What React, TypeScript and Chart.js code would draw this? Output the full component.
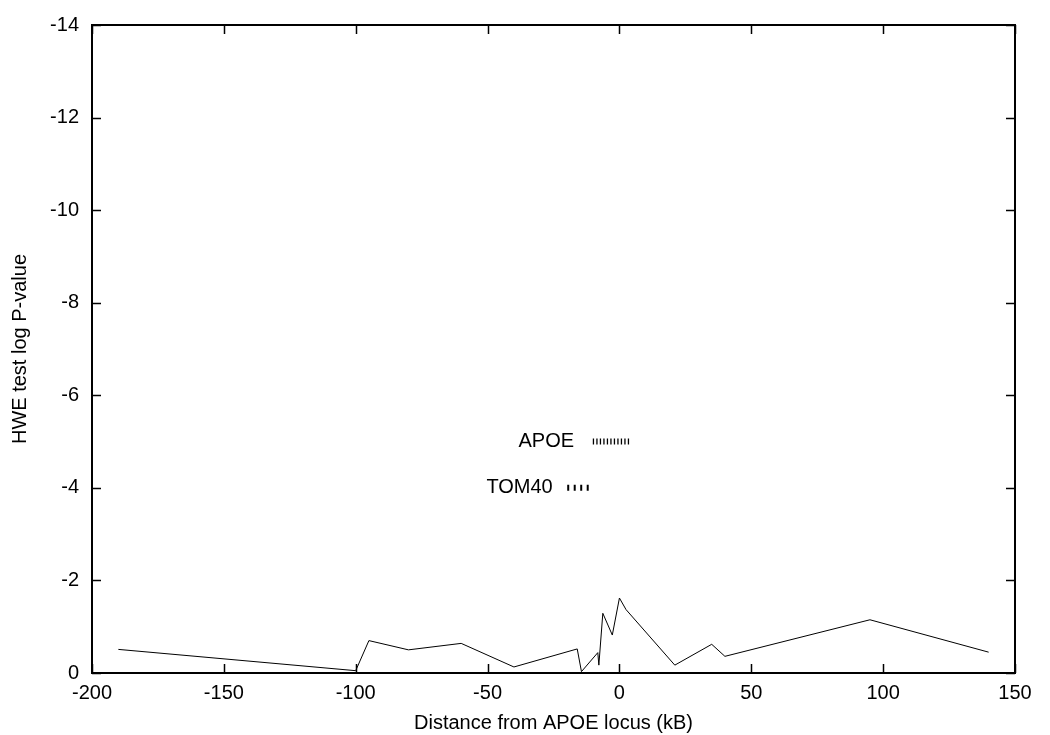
import { Chart, registerables } from "chart.js";
import React, { useEffect, useRef } from "react";

Chart.register(...registerables);

// HWE test -log P along the region (kB from APOE)
const distanceKb = [-190, -100, -95, -80, -60, -40, -16, -14.4, -8.2, -7.8, -6.3, -2.7, 0, 2.5, 21, 35, 40, 95, 140];
const hweLogP = [-0.51, -0.05, -0.7, -0.5, -0.64, -0.13, -0.52, -0.03, -0.44, -0.17, -1.29, -0.82, -1.62, -1.37, -0.17, -0.62, -0.36, -1.15, -0.45];

// gene markers
const geneNames = ["APOE", "TOM40"];
const geneStart = [-10.1, -19.8];
const geneEnd = [4.4, -10.5];
const geneLevel = [-5, -4];
const geneLabelX = [-17.2, -25.3];

const xTicks = [-200, -150, -100, -50, 0, 50, 100, 150];
const yTicks = [0, -2, -4, -6, -8, -10, -12, -14];

const FONT = "'Liberation Sans', Arial, Helvetica, sans-serif";

const framePlugin = {
  id: "gnuFrame",
  afterDatasetsDraw(chart: Chart) {
    const { ctx, chartArea } = chart;
    const xs = chart.scales.x;
    const ys = chart.scales.y;
    const { left, right, top, bottom } = chartArea;
    const len = 9;
    ctx.save();
    ctx.strokeStyle = "#000";
    ctx.lineWidth = 1.5;
    ctx.beginPath();
    xTicks.forEach((v) => {
      const px = Math.round(xs.getPixelForValue(v)) + 0.5;
      ctx.moveTo(px, bottom);
      ctx.lineTo(px, bottom - len);
      ctx.moveTo(px, top);
      ctx.lineTo(px, top + len);
    });
    yTicks.forEach((v) => {
      const py = Math.round(ys.getPixelForValue(v)) + 0.5;
      ctx.moveTo(left, py);
      ctx.lineTo(left + len, py);
      ctx.moveTo(right, py);
      ctx.lineTo(right - len, py);
    });
    ctx.stroke();
    ctx.lineWidth = 2;
    ctx.strokeRect(left, top, right - left, bottom - top);

    ctx.fillStyle = "#000";
    ctx.font = `20px ${FONT}`;
    ctx.textAlign = "right";
    ctx.textBaseline = "middle";
    geneNames.forEach((name, i) => {
      ctx.fillText(name, xs.getPixelForValue(geneLabelX[i]), ys.getPixelForValue(geneLevel[i]));
    });
    ctx.restore();
  },
};

const App: React.FC = () => {
  const chartRef = useRef<HTMLCanvasElement>(null);

  useEffect(() => {
    if (!chartRef.current) return;
    Chart.defaults.font.family = FONT;
    Chart.defaults.color = "#000";

    const geneDash = [
      [1.3, 2.2],
      [2, 4.5],
    ];

    const chart = new Chart(chartRef.current, {
      type: "scatter",
      data: {
        datasets: [
          {
            label: "HWE",
            data: distanceKb.map((x, i) => ({ x, y: hweLogP[i] })),
            showLine: true,
            borderColor: "#000",
            borderWidth: 1,
            pointRadius: 0,
          },
          ...geneNames.map((name, i) => ({
            label: name,
            data: [
              { x: geneStart[i], y: geneLevel[i] },
              { x: geneEnd[i], y: geneLevel[i] },
            ],
            showLine: true,
            borderColor: "#000",
            borderWidth: 6,
            borderDash: geneDash[i],
            borderCapStyle: "butt" as const,
            pointRadius: 0,
          })),
        ],
      },
      options: {
        animation: false,
        responsive: false,
        maintainAspectRatio: false,
        layout: { padding: { top: 24, right: 35, left: 0, bottom: 0 } },
        plugins: {
          legend: { display: false },
          tooltip: { enabled: false },
        },
        scales: {
          x: {
            type: "linear",
            min: -200,
            max: 150,
            afterBuildTicks: (s: any) => {
              s.ticks = xTicks.map((value) => ({ value }));
            },
            afterFit: (s: any) => {
              s.height = 62;
            },
            grid: { display: false, drawTicks: false },
            border: { display: false },
            ticks: { padding: 8, font: { size: 20 }, color: "#000" },
            title: {
              display: true,
              text: "Distance from APOE locus (kB)",
              font: { size: 20 },
              color: "#000",
              padding: { top: 0, bottom: 0 },
            },
          },
          y: {
            type: "linear",
            min: -14,
            max: 0,
            reverse: true,
            afterBuildTicks: (s: any) => {
              s.ticks = yTicks.map((value) => ({ value }));
            },
            afterFit: (s: any) => {
              s.width = 92;
            },
            grid: { display: false, drawTicks: false },
            border: { display: false },
            ticks: { padding: 13, font: { size: 20 }, color: "#000" },
            title: {
              display: true,
              text: "HWE test log P-value",
              font: { size: 20 },
              color: "#000",
              padding: { top: 8, bottom: 0 },
            },
          },
        },
      },
      plugins: [framePlugin],
    });

    return () => {
      chart.destroy();
    };
  }, []);

  return (
    <div style={{ position: "absolute", left: 0, top: 0, width: 1050, height: 735, background: "#fff" }}>
      <canvas ref={chartRef} width={1050} height={735} style={{ width: 1050, height: 735 }}></canvas>
    </div>
  );
};

export default App;
